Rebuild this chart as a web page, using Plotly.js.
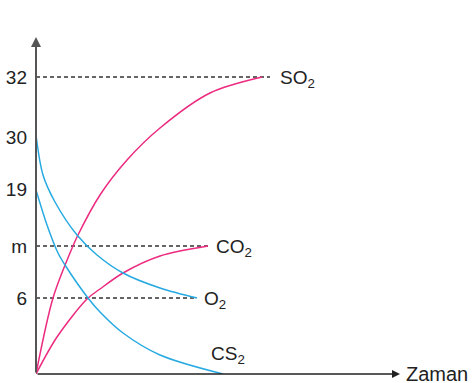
<!DOCTYPE html>
<html><head><meta charset="utf-8">
<script src="https://cdn.plot.ly/plotly-3.0.1.min.js"></script>
<style>html,body{margin:0;padding:0;background:#fff}</style>
</head><body><div id="chart" style="width:476px;height:383px"></div>
<script>
// axis units: time (horizontal), mass position (vertical, nonlinear labels)
const yTickVals = [297, 237, 185, 128, 76];
const yTickText = ['32', '30', '19', 'm', '6'];

const so2X = [0, 17, 34, 42, 64, 91, 124, 174, 226];
const so2Y = [0, 76, 121, 139, 179, 214, 246, 281, 297];
const co2X = [0, 21, 51, 64, 87, 124, 172];
const co2Y = [0, 37, 75, 85, 101, 118, 128];
const o2X  = [0, 7, 19, 41, 61, 87, 124, 161];
const o2Y  = [239, 199, 172, 139, 119, 101, 86, 76];
const cs2X = [0, 11, 22, 29, 52, 64, 87, 124, 187];
const cs2Y = [184, 149, 121, 109, 76, 62, 41, 19, 0];

const PINK = '#ec2a7f', BLUE = '#27aae1', DASH = '#333333';
const FONT = 'Liberation Sans, Arial, Helvetica, sans-serif';

function curve(x, y, c) {
  return {x: x, y: y, type: 'scatter', mode: 'lines', line: {color: c, width: 1.5, shape: 'spline', smoothing: 0.9}, hoverinfo: 'skip', cliponaxis: false};
}
function dashed(xEnd, y) {
  return {x: [0, xEnd], y: [y, y], type: 'scatter', mode: 'lines', line: {color: DASH, width: 1.3, dash: '4px,3px'}, hoverinfo: 'skip'};
}
const last = a => a[a.length - 1];

const data = [
  dashed(last(so2X) + 8, last(so2Y)),
  dashed(last(co2X), last(co2Y)),
  dashed(last(o2X), last(o2Y)),
  curve(so2X, so2Y, PINK),
  curve(co2X, co2Y, PINK),
  curve(o2X, o2Y, BLUE),
  curve(cs2X, cs2Y, BLUE)
];

const lab = (x, y, t, dx, dy) => ({x: x, y: y, text: t, xref: 'x', yref: 'y', showarrow: false, xanchor: 'left', yanchor: 'middle', xshift: dx, yshift: dy || 0, font: {family: FONT, size: 19, color: '#222'}});

const layout = {
  width: 476, height: 383,
  margin: {l: 36, r: 76, t: 37, b: 9},
  paper_bgcolor: '#fff', plot_bgcolor: '#fff',
  showlegend: false,
  font: {family: FONT, size: 19, color: '#222'},
  xaxis: {range: [0, 364], showgrid: false, zeroline: false, showline: false, showticklabels: false, ticks: '', fixedrange: true},
  yaxis: {range: [0, 337], showgrid: false, zeroline: false, showline: false, tickvals: yTickVals, ticktext: yTickText, ticks: '', ticklabelstandoff: 8, tickfont: {family: FONT, size: 19, color: '#222'}, fixedrange: true},
  annotations: [
    {x: 0, y: 337, ax: 0, ay: 0, axref: 'x', ayref: 'y', xref: 'x', yref: 'y', showarrow: true, arrowhead: 2, arrowsize: 1, arrowwidth: 2, arrowcolor: '#555', text: ''},
    {x: 364, y: 0, ax: 0, ay: 0, axref: 'x', ayref: 'y', xref: 'x', yref: 'y', showarrow: true, arrowhead: 2, arrowsize: 1, arrowwidth: 1.6, arrowcolor: '#222', text: ''},
    {x: -4, y: 356, xref: 'x', yref: 'y', text: 'Kütle (g)', showarrow: false, xanchor: 'left', yanchor: 'middle', font: {family: FONT, size: 20, color: '#222'}},
    {x: 364, y: 0, xref: 'x', yref: 'y', text: 'Zaman', showarrow: false, xanchor: 'left', yanchor: 'middle', xshift: 4, font: {family: FONT, size: 20, color: '#222'}},
    lab(last(so2X) + 8, last(so2Y), 'SO<sub>2</sub>', 8, -2),
    lab(last(co2X), last(co2Y), 'CO<sub>2</sub>', 6, -2),
    lab(last(o2X), last(o2Y), 'O<sub>2</sub>', 5, -2),
    lab(last(cs2X), last(cs2Y), 'CS<sub>2</sub>', -14, 19)
  ]
};

Plotly.newPlot('chart', data, layout, {displayModeBar: false, staticPlot: true});
</script></body></html>
